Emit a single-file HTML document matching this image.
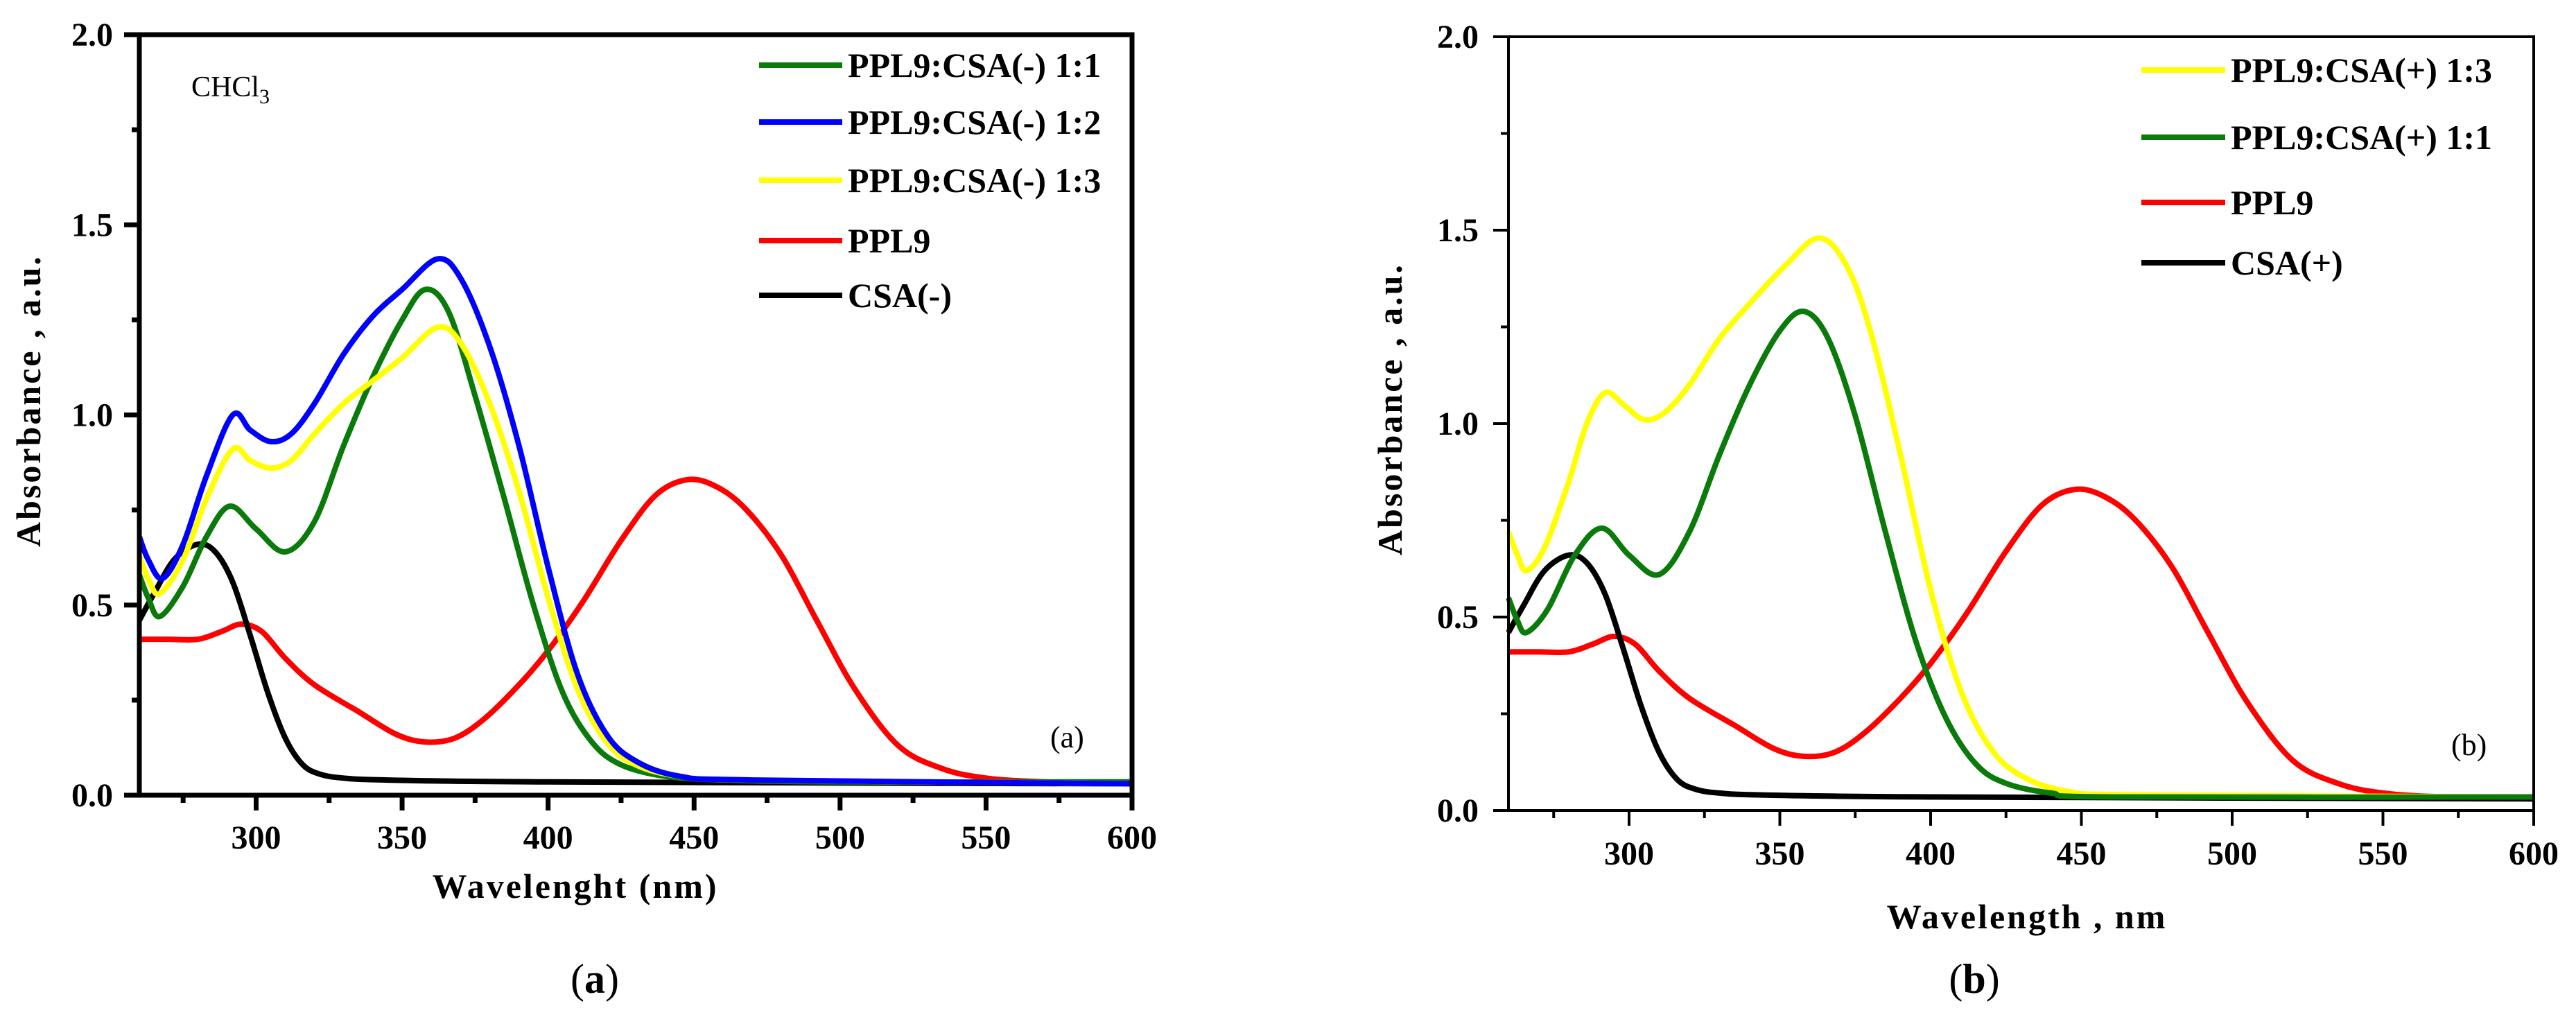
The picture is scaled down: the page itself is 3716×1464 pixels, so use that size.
<!DOCTYPE html>
<html><head><meta charset="utf-8">
<style>
html,body{margin:0;padding:0;background:#fff;}
svg{display:block;font-family:"Liberation Serif","DejaVu Serif",serif;}
</style></head>
<body>
<svg id="fig" width="3716" height="1464" viewBox="0 0 3716 1464"></svg>
<script>
// ---- shared data ----
const xTicks = [300, 350, 400, 450, 500, 550, 600];
const yTicks = [0.0, 0.5, 1.0, 1.5, 2.0];

// ---- panel (a) series ----
const aGreenX = [260,263,267,275,283,291,300,310,320,330,340,350,358,366,375,385,395,405,415,425,440,460,500,600];
const aGreenY = [0.58,0.52,0.47,0.55,0.68,0.76,0.70,0.64,0.72,0.92,1.10,1.25,1.33,1.27,1.05,0.78,0.50,0.27,0.14,0.08,0.05,0.04,0.035,0.035];
const aBlueX = [260,263,268,275,283,292,298,305,312,320,330,340,350,362,370,380,390,400,410,420,430,445,470,600];
const aBlueY = [0.68,0.62,0.57,0.66,0.84,1.00,0.96,0.93,0.95,1.03,1.16,1.26,1.33,1.41,1.36,1.18,0.92,0.60,0.32,0.16,0.09,0.05,0.04,0.03];
const aYellowX = [260,263,267,275,283,292,298,305,312,320,330,340,350,362,370,380,390,400,410,420,430,445,470,600];
const aYellowY = [0.63,0.57,0.53,0.62,0.78,0.91,0.88,0.86,0.88,0.95,1.03,1.09,1.15,1.23,1.19,1.03,0.80,0.52,0.28,0.14,0.08,0.05,0.04,0.03];
const aRedX = [260,270,280,288,295,302,310,320,335,348,358,368,378,390,400,412,425,437,448,458,468,480,492,505,520,535,550,570,600];
const aRedY = [0.41,0.41,0.41,0.43,0.45,0.43,0.36,0.29,0.22,0.16,0.14,0.15,0.20,0.29,0.38,0.51,0.67,0.79,0.83,0.81,0.75,0.63,0.46,0.28,0.13,0.07,0.045,0.035,0.03];
const aBlackX = [260,265,272,280,286,292,298,304,310,316,322,330,345,400,600];
const aBlackY = [0.46,0.53,0.62,0.66,0.64,0.56,0.42,0.27,0.15,0.08,0.055,0.045,0.04,0.035,0.03];

// ---- panel (b) series ----
const bYellowX = [260,263,266,272,280,286,292,298,305,312,320,330,340,352,363,372,380,390,400,410,420,430,445,470,600];
const bYellowY = [0.72,0.66,0.62,0.68,0.85,1.00,1.08,1.05,1.01,1.03,1.10,1.22,1.31,1.41,1.48,1.41,1.24,0.92,0.57,0.31,0.16,0.09,0.05,0.04,0.035];
const bGreenX = [260,263,266,273,282,291,300,310,320,330,340,350,358,366,375,385,395,405,415,425,440,460,600];
const bGreenY = [0.55,0.49,0.46,0.52,0.66,0.73,0.66,0.61,0.72,0.92,1.10,1.24,1.29,1.22,1.02,0.72,0.44,0.24,0.12,0.07,0.045,0.035,0.035];
const bRedX = aRedX;
const bRedY = [0.41,0.41,0.41,0.43,0.45,0.43,0.36,0.29,0.22,0.16,0.14,0.15,0.20,0.29,0.38,0.51,0.67,0.79,0.83,0.81,0.75,0.63,0.46,0.28,0.13,0.07,0.045,0.035,0.03];
const bBlackX = aBlackX;
const bBlackY = [0.46,0.53,0.62,0.66,0.64,0.56,0.42,0.27,0.15,0.08,0.055,0.045,0.04,0.035,0.03];

const NS = "http://www.w3.org/2000/svg";
const svg = document.getElementById('fig');
function mk(tag, attrs, parent, text){
  const e = document.createElementNS(NS, tag);
  for (const k in attrs) e.setAttribute(k, attrs[k]);
  if (text !== undefined) e.textContent = text;
  (parent || svg).appendChild(e);
  return e;
}
function smoothPath(pts){
  let d = 'M' + pts[0][0].toFixed(1) + ' ' + pts[0][1].toFixed(1);
  for (let i = 0; i < pts.length - 1; i++){
    const p0 = pts[i-1] || pts[i], p1 = pts[i], p2 = pts[i+1], p3 = pts[i+2] || p2;
    const t = 1/6;
    const c1 = [p1[0] + (p2[0]-p0[0])*t, p1[1] + (p2[1]-p0[1])*t];
    const c2 = [p2[0] - (p3[0]-p1[0])*t, p2[1] - (p3[1]-p1[1])*t];
    d += ' C' + c1[0].toFixed(1)+' '+c1[1].toFixed(1)+' '+c2[0].toFixed(1)+' '+c2[1].toFixed(1)+' '+p2[0].toFixed(1)+' '+p2[1].toFixed(1);
  }
  return d;
}

function panel(cfg){
  const g = mk('g', {});
  
  
  const X = v => cfg.x0 + (v - 260) / (600 - 260) * (cfg.x1 - cfg.x0);
  const Y = v => cfg.y0 - v / 2 * (cfg.y0 - cfg.y1);
  const lw = cfg.axisW;
  cfg.series.forEach(s => {
    const pts = s.x.map((xv, i) => [X(xv), Y(s.y[i])]);
    const p = mk('path', {d: smoothPath(pts), fill: 'none', stroke: s.color, 'stroke-width': 8, 'stroke-linejoin': 'round'}, g);
    
    
  });
  const fr = mk('rect', {x: cfg.x0, y: cfg.y1, width: cfg.x1 - cfg.x0, height: cfg.y0 - cfg.y1, fill: 'none', stroke: '#000', 'stroke-width': lw}, g);
  
  
  for (let v = 0; v <= 2.0001; v += 0.25){
    const major = Math.abs(v*2 - Math.round(v*2)) < 1e-6;
    const t = mk('line', {x1: cfg.x0, x2: cfg.x0 - (major ? 22 : 11), y1: Y(v), y2: Y(v), stroke: '#000', 'stroke-width': lw}, g);
    
    
  }
  yTicks.forEach(v => {
    const t = mk('text', {x: cfg.ylabX, y: Y(v) + 16, 'text-anchor': 'end', 'font-size': 48, 'font-weight': 'bold'}, g, v.toFixed(1));
    
    
  });
  for (let v = 275; v <= 600; v += 25){
    const major = v % 50 === 0;
    const t = mk('line', {x1: X(v), x2: X(v), y1: cfg.y0, y2: cfg.y0 + (major ? 22 : 11), stroke: '#000', 'stroke-width': lw}, g);
    
    
  }
  xTicks.forEach(v => {
    const t = mk('text', {x: X(v), y: cfg.xlabY, 'text-anchor': 'middle', 'font-size': 48, 'font-weight': 'bold'}, g, String(v));
    
    
  });
  const yt = mk('text', {x: 0, y: 0, transform: 'translate(' + cfg.ytX + ',' + cfg.ytY + ') rotate(-90)', 'text-anchor': 'middle', 'font-size': 50, 'font-weight': 'bold', 'letter-spacing': 3}, g, 'Absorbance , a.u.');
  
  
  const xt = mk('text', {x: cfg.xtX, y: cfg.xtY, 'text-anchor': 'middle', 'font-size': 50, 'font-weight': 'bold', 'letter-spacing': 3}, g, cfg.xTitle);
  
  
  cfg.legend.forEach((L, i) => {
    const lg = mk('g', {}, g);
    
    
    mk('line', {x1: cfg.legX1, x2: cfg.legX2, y1: cfg.legY[i], y2: cfg.legY[i], stroke: L.color, 'stroke-width': 8}, lg);
    mk('text', {x: cfg.legX2 + 8, y: cfg.legY[i] + 17, 'font-size': 50, 'font-weight': 'bold'}, lg, L.label);
  });
  const tg = mk('text', {x: cfg.tagX, y: cfg.tagY, 'font-size': 44}, g, cfg.tag);
  
  
  const cap = mk('text', {x: cfg.capX, y: 1432, 'text-anchor': 'middle', 'font-size': 60}, g);
  
  
  mk('tspan', {}, cap, '(');
  mk('tspan', {'font-weight': 'bold'}, cap, cfg.capLetter);
  mk('tspan', {}, cap, ')');
  return g;
}

const ga = panel({
  name: 'panel-a', x0: 201, x1: 1633, y0: 1147, y1: 50, axisW: 7,
  ylabX: 163, xlabY: 1224, ytX: 58, ytY: 578, xtX: 830, xtY: 1295, xTitle: 'Wavelenght (nm)',
  legX1: 1095, legX2: 1215, legY: [94, 176, 260, 347, 426],
  legend: [
    {color: '#0a7a0a', label: 'PPL9:CSA(-) 1:1'},
    {color: '#0000ff', label: 'PPL9:CSA(-) 1:2'},
    {color: '#ffff00', label: 'PPL9:CSA(-) 1:3'},
    {color: '#ff0000', label: 'PPL9'},
    {color: '#000000', label: 'CSA(-)'}
  ],
  series: [
    {id: 'series-ppl9', color: '#ff0000', x: aRedX, y: aRedY},
    {id: 'series-csa-minus', color: '#000000', x: aBlackX, y: aBlackY},
    {id: 'series-1-1', color: '#0a7a0a', x: aGreenX, y: aGreenY},
    {id: 'series-1-3', color: '#ffff00', x: aYellowX, y: aYellowY},
    {id: 'series-1-2', color: '#0000ff', x: aBlueX, y: aBlueY}
  ],
  tag: '(a)', tagX: 1515, tagY: 1078, capX: 858, capLetter: 'a'
});
const chcl = mk('text', {x: 276, y: 139, 'font-size': 42}, ga);


mk('tspan', {}, chcl, 'CHCl');
mk('tspan', {'font-size': 30, dy: 10}, chcl, '3');

panel({
  name: 'panel-b', x0: 2176, x1: 3655, y0: 1169, y1: 53, axisW: 4,
  ylabX: 2133, xlabY: 1247, ytX: 2022, ytY: 590, xtX: 2924, xtY: 1339, xTitle: 'Wavelength , nm',
  legX1: 3089, legX2: 3210, legY: [101, 198, 292, 379],
  legend: [
    {color: '#ffff00', label: 'PPL9:CSA(+) 1:3'},
    {color: '#0a7a0a', label: 'PPL9:CSA(+) 1:1'},
    {color: '#ff0000', label: 'PPL9'},
    {color: '#000000', label: 'CSA(+)'}
  ],
  series: [
    {id: 'series-ppl9', color: '#ff0000', x: bRedX, y: bRedY},
    {id: 'series-csa-plus', color: '#000000', x: bBlackX, y: bBlackY},
    {id: 'series-1-3', color: '#ffff00', x: bYellowX, y: bYellowY},
    {id: 'series-1-1', color: '#0a7a0a', x: bGreenX, y: bGreenY}
  ],
  tag: '(b)', tagX: 3536, tagY: 1089, capX: 2848, capLetter: 'b'
});
</script>
</body></html>
